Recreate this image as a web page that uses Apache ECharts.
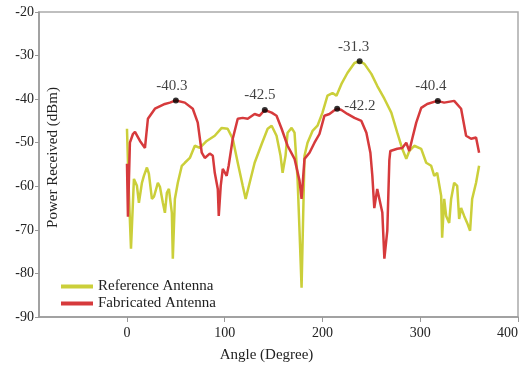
<!DOCTYPE html>
<html>
<head>
<meta charset="utf-8">
<script src="https://cdn.jsdelivr.net/npm/echarts@6/dist/echarts.min.js"></script>
<style>
  html, body { margin: 0; padding: 0; background: #fff; }
  #chart { width: 520px; height: 369px; }
</style>
</head>
<body>
<div id="chart"></div>
<script>
// reference antenna (yellow)
const refAngle = [0, 2, 4.1, 7.1, 10.2, 12.2, 15.3, 17.3, 20.4, 22.4, 25.5, 27.6, 31.6, 33.7, 36.7, 38.8, 40.8, 42.9, 45.9, 46.9, 49, 52, 56.1, 59.2, 64.3, 69.4, 74.5, 81.6, 89.8, 96.9, 103, 108.2, 113.3, 118.4, 121.4, 125.5, 130.6, 137.8, 143.9, 148, 153, 157.1, 159.2, 162.2, 164.3, 168.4, 171.4, 174.5, 176.5, 178.6, 181.6, 184.7, 189.8, 194.9, 200, 205.1, 210.2, 214.3, 219.4, 225.5, 232.7, 237.8, 242.9, 250, 256.1, 263.3, 270.4, 276.5, 281.6, 285.7, 288.8, 293.9, 301, 306.1, 311.2, 314.3, 317.3, 321.4, 322.4, 324.5, 326.5, 329.6, 331.6, 334.7, 337.8, 339.8, 341.8, 344.9, 348, 351, 353.1, 357.1, 360.2];
const refPower = [-46.8, -62, -74.3, -58.3, -59.9, -63.8, -59.2, -57.6, -55.7, -57.1, -62.9, -62.4, -59.2, -60.1, -63.8, -66.1, -61.5, -60.6, -66.1, -76.6, -62.9, -59.2, -55.3, -54.6, -53.5, -50.7, -51.2, -49.6, -48.4, -46.6, -46.8, -49.1, -54.6, -59.9, -62.9, -59.2, -54.6, -50.3, -46.8, -46.1, -48.4, -53, -56.9, -53, -47.7, -46.6, -47.7, -58.3, -70.2, -83.3, -53, -50, -47.3, -46.1, -43.1, -39.2, -38.6, -39.2, -36.5, -34, -31.7, -31.3, -31.9, -34.2, -37, -39.9, -43.1, -47.7, -51.4, -53.7, -51.9, -50.7, -51.4, -54.6, -55.3, -57.6, -56.9, -62.2, -71.8, -62.9, -66.8, -68.4, -62.9, -59.2, -59.9, -67.5, -65, -66.8, -68.4, -70.2, -62.9, -59.2, -55.3];

// fabricated antenna (red)
const fabAngle = [0, 1, 3, 6.1, 8.2, 13.3, 18.4, 21.4, 28.6, 38.8, 43.9, 50, 59.2, 67.3, 72.4, 76.5, 79.6, 84.7, 87.8, 89.8, 92.9, 93.9, 95.9, 98, 102, 104, 108.2, 113.3, 118.4, 123.5, 130.6, 135.7, 140.8, 148, 153, 158.2, 164.3, 171.4, 176.5, 178.6, 181.6, 186.7, 191.8, 196.9, 202, 207.1, 211.2, 215.3, 219.4, 225.5, 232.7, 239.8, 244.9, 249, 251, 253, 256, 258.2, 261.2, 263.3, 266.3, 268.4, 269.4, 276.5, 281.6, 285.7, 288.8, 291.8, 295.9, 301, 307.1, 317.3, 324.5, 334.7, 341.8, 346.9, 352, 357.1, 360.2];
const fabPower = [-54.8, -67, -50, -48, -47.5, -49.6, -51.2, -44.5, -42.2, -41.1, -40.8, -40.3, -40.8, -42.2, -45.4, -52.3, -53.5, -52.5, -53, -56.9, -60.6, -66.8, -59.9, -56, -57.6, -55.3, -49.1, -44.5, -44.3, -44.5, -43.4, -43.8, -42.5, -43.1, -43.8, -46.8, -50.7, -53.7, -58.7, -62.9, -53.7, -52.3, -50, -48, -43.8, -43.4, -42.7, -42.2, -42.5, -43.4, -44.3, -45, -47.7, -52.3, -57.6, -65, -60.6, -62.9, -66, -76.6, -70.2, -54, -51.9, -51.4, -51.2, -50, -51.9, -49.1, -45.4, -42, -41.1, -40.4, -40.8, -40.4, -42.2, -48.4, -49.1, -48.8, -52.3];

// marked peaks
const peakAngle = [50, 141, 238, 215, 318];
const peakPower = [-40.3, -42.5, -31.3, -42.2, -40.4];
const peakLabelPos = ['top', 'top', 'top', 'right', 'top'];
const peakLabelOffset = [[-4, 0], [-5, 0], [-6, 0], [0, -3], [-7, 0]];

const xTicks = [0, 100, 200, 300, 400];

const font = 'Liberation Serif, Times New Roman, serif';
const yellow = '#cbcf3a';
const red = '#d63a3c';

const chart = echarts.init(document.getElementById('chart'));

const option = {
  animation: false,
  grid: {
    left: 39,
    right: 2,
    top: 12,
    bottom: 52,
    outerBoundsMode: 'none',
    containLabel: false,
    show: true,
    borderColor: '#aaa',
    borderWidth: 1.5
  },
  legend: {
    orient: 'vertical',
    left: 56,
    top: 274,
    itemWidth: 32,
    itemHeight: 4,
    itemGap: 2,
    icon: 'rect',
    textStyle: { fontFamily: font, fontSize: 15, color: '#222' },
    data: ['Reference Antenna', 'Fabricated Antenna']
  },
  xAxis: {
    type: 'value',
    min: -90,
    max: 400,
    name: 'Angle (Degree)',
    nameLocation: 'middle',
    nameGap: 31,
    nameTextStyle: { fontFamily: font, fontSize: 15, color: '#222', padding: [0, 24, 0, 0] },
    axisLine: { onZero: false, lineStyle: { color: '#999', width: 1.5 } },
    axisTick: { length: 5, customValues: xTicks, lineStyle: { color: '#999' } },
    axisLabel: { customValues: xTicks, alignMaxLabel: 'right', fontFamily: font, fontSize: 14, color: '#222', margin: 9 },
    splitLine: { show: false }
  },
  yAxis: {
    type: 'value',
    min: -90,
    max: -20,
    interval: 10,
    name: 'Power Received (dBm)',
    nameLocation: 'middle',
    nameGap: -22,
    nameMoveOverlap: false,
    nameTextStyle: { fontFamily: font, fontSize: 15, color: '#222', padding: [0, 0, 0, 14] },
    axisLine: { show: true, onZero: false, lineStyle: { color: '#999', width: 1.5 } },
    axisTick: { show: true, length: 4, lineStyle: { color: '#999' } },
    axisLabel: { fontFamily: font, fontSize: 14, color: '#222', margin: 5 },
    splitLine: { show: false }
  },
  series: [
    {
      name: 'Reference Antenna',
      type: 'line',
      showSymbol: false,
      color: yellow,
      lineStyle: { color: yellow, width: 2.5 },
      data: refAngle.map((a, i) => [a, refPower[i]])
    },
    {
      name: 'Fabricated Antenna',
      type: 'line',
      showSymbol: false,
      color: red,
      lineStyle: { color: red, width: 2.5 },
      data: fabAngle.map((a, i) => [a, fabPower[i]])
    },
    {
      name: 'peaks',
      type: 'scatter',
      symbolSize: 6,
      itemStyle: { color: '#000' },
      z: 5,
      data: peakAngle.map((a, i) => ({
        value: [a, peakPower[i]],
        label: {
          show: true,
          position: peakLabelPos[i],
          offset: peakLabelOffset[i],
          distance: 4,
          formatter: String(peakPower[i]),
          fontFamily: font,
          fontSize: 15,
          color: '#111'
        }
      }))
    }
  ]
};

chart.setOption(option);
</script>
</body>
</html>
